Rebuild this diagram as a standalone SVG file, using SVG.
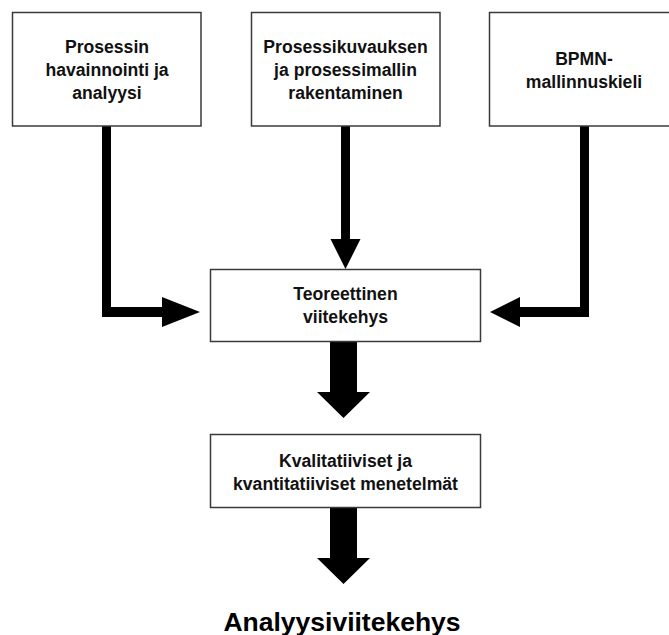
<svg xmlns="http://www.w3.org/2000/svg" width="669" height="635" viewBox="0 0 669 635">
  <style>
    .box { fill: #ffffff; stroke: #3a3a3a; stroke-width: 1.5; }
    .lbl { font-family: "Liberation Sans", Arial, sans-serif; font-weight: bold; font-size: 17.6px; fill: #111111; text-anchor: middle; }
    .title { font-family: "Liberation Sans", Arial, sans-serif; font-weight: bold; font-size: 26.5px; fill: #000000; text-anchor: middle; }
    .arrow { fill: #000000; stroke: none; }
  </style>
  <rect width="669" height="635" fill="#ffffff"/>

  <!-- connectors -->
  <g id="connectors">
    <polygon class="arrow" points="102,126 111,126 111,307 162,307 162,297 200,312 162,327 162,317 102,317"/>
    <polygon class="arrow" points="341,126 350,126 350,239 360.5,239 345.5,269 330.5,239 341,239"/>
    <polygon class="arrow" points="580,126 589,126 589,317 520,317 520,327 490,312 520,297 520,307 580,307"/>
    <polygon class="arrow" points="330,342 357,342 357,392 370,392 343.5,418 317,392 330,392"/>
    <polygon class="arrow" points="330,508 357,508 357,558 370,558 343.5,584 317,558 330,558"/>
  </g>

  <!-- nodes -->
  <g id="node-havainnointi">
    <rect class="box" x="12.5" y="12.5" width="188.5" height="113.5"/>
    <text class="lbl" x="107" y="53">Prosessin</text>
    <text class="lbl" x="107" y="76">havainnointi ja</text>
    <text class="lbl" x="107" y="99">analyysi</text>
  </g>
  <g id="node-prosessikuvaus">
    <rect class="box" x="251.5" y="12.5" width="188.5" height="113.5"/>
    <text class="lbl" x="345.5" y="53">Prosessikuvauksen</text>
    <text class="lbl" x="345.5" y="76">ja prosessimallin</text>
    <text class="lbl" x="345.5" y="99">rakentaminen</text>
  </g>
  <g id="node-bpmn">
    <rect class="box" x="489.5" y="12.5" width="188.5" height="113.5"/>
    <text class="lbl" x="584" y="65">BPMN-</text>
    <text class="lbl" x="584" y="88">mallinnuskieli</text>
  </g>
  <g id="node-teoreettinen">
    <rect class="box" x="210.5" y="269.5" width="270" height="72"/>
    <text class="lbl" x="345.5" y="300">Teoreettinen</text>
    <text class="lbl" x="345.5" y="323">viitekehys</text>
  </g>
  <g id="node-menetelmat">
    <rect class="box" x="210.5" y="434.5" width="270" height="73"/>
    <text class="lbl" x="345.5" y="466.5">Kvalitatiiviset ja</text>
    <text class="lbl" x="345.5" y="489.5">kvantitatiiviset menetelmät</text>
  </g>
  <g id="node-analyysiviitekehys">
    <text class="title" x="342" y="630.5">Analyysiviitekehys</text>
  </g>
</svg>
